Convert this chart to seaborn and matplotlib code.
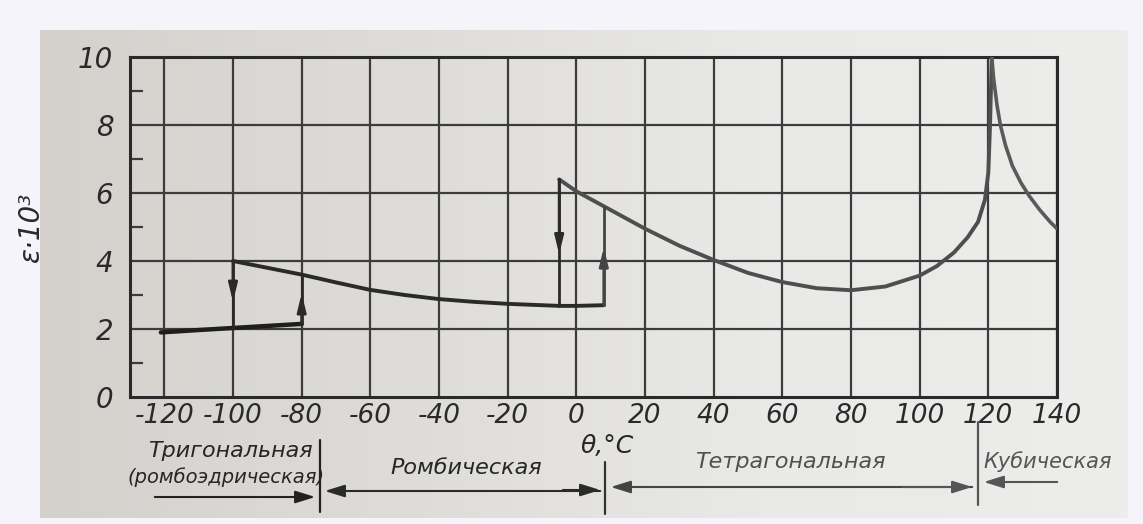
import numpy as np
import pandas as pd
import matplotlib
matplotlib.use("Agg")
import matplotlib.pyplot as plt
import seaborn as sns

# --- data: permittivity of the crystal vs temperature, eps in thousands ---
trig_T = [-121, -110, -100, -90, -80]
trig_eps = [1.9, 1.97, 2.03, 2.09, 2.15]

orth_T = [-100, -90, -80, -70, -60, -50, -40, -30, -20, -10, -5, 0, 8]
orth_eps = [4.0, 3.8, 3.6, 3.37, 3.15, 3.0, 2.88, 2.8, 2.74, 2.7, 2.68, 2.68, 2.7]

tetr_T = [-5, 0, 10, 20, 30, 40, 50, 60, 70, 80, 90, 100, 105, 110, 114, 117, 119, 120, 120.5, 121]
tetr_eps = [6.4, 6.05, 5.5, 4.95, 4.45, 4.03, 3.65, 3.38, 3.2, 3.14, 3.25, 3.57, 3.85, 4.25, 4.7, 5.15, 5.8, 6.6, 8.0, 10.0]

cub_T = [121, 121.5, 122.5, 123.5, 125, 127, 129.5, 132, 135, 138, 140]
cub_eps = [10.0, 9.4, 8.6, 8.0, 7.4, 6.8, 6.3, 5.9, 5.5, 5.15, 4.95]

# transitions: (temperature, eps_from, eps_to, eps at arrowhead)
transitions_T = [-100, -80, -5, 8]
transitions_from = [4.0, 2.15, 6.4, 2.7]
transitions_to = [2.03, 3.6, 2.68, 5.6]
transitions_head = [2.8, 3.05, 4.2, 4.4]

x_ticks = list(range(-120, 141, 20))
y_ticks = [0, 2, 4, 6, 8, 10]
y_minor = [1, 3, 5, 7, 9]

phase_names = ["Тригональная\n(ромбоэдрическая)", "Ромбическая", "Тетрагональная", "Кубическая"]

W, H = 1143, 524
FONT = ["DejaVu Sans"]

sns.set_theme(style="white")
plt.rcParams["font.family"] = FONT
plt.rcParams["font.style"] = "italic"

fig = plt.figure(figsize=(W / 100, H / 100), dpi=100, facecolor="#f4f4fa")

def fx(px):
    return px / W

def fy(py):
    return 1 - py / H

# paper background with a soft left-to-right brightening
bg = fig.add_axes([fx(40), fy(518), fx(1128) - fx(40), fy(30) - fy(518)], zorder=-5)
grad = np.linspace(0, 1, 256)[None, :]
bg.imshow(grad, aspect="auto", cmap=matplotlib.colors.LinearSegmentedColormap.from_list(
    "paper", ["#d4d1cd", "#dedcd9", "#e9e9e7", "#ededeb"]), extent=[0, 1, 0, 1])
bg.set_axis_off()

ax = fig.add_axes([fx(130), fy(397), fx(1057) - fx(130), fy(57) - fy(397)])
ax.set_facecolor("none")

grid_c = "#3c3c3c"

# grid
for t in x_ticks:
    ax.axvline(t, color=grid_c, lw=1.6, zorder=1)
for v in y_ticks[1:]:
    ax.axhline(v, color=grid_c, lw=1.6, zorder=1)

df_trig = pd.DataFrame({"T": trig_T, "eps": trig_eps})
df_orth = pd.DataFrame({"T": orth_T, "eps": orth_eps})
df_tetr = pd.DataFrame({"T": tetr_T, "eps": tetr_eps})
df_cub = pd.DataFrame({"T": cub_T, "eps": cub_eps})

sns.lineplot(data=df_trig, x="T", y="eps", ax=ax, color="#1e1e1e", lw=3.2, sort=False, zorder=3)
sns.lineplot(data=df_orth, x="T", y="eps", ax=ax, color="#2a2a2a", lw=2.8, sort=False, zorder=3)
sns.lineplot(data=df_tetr, x="T", y="eps", ax=ax, color="#4e4e4e", lw=2.8, sort=False, zorder=3)
sns.lineplot(data=df_cub, x="T", y="eps", ax=ax, color="#5a5a5a", lw=2.6, sort=False, zorder=3)

# vertical transition lines with arrowheads mid-way
for t, a, b, h in zip(transitions_T, transitions_from, transitions_to, transitions_head):
    col = "#2a2a2a" if t < 0 else "#444444"
    ax.plot([t, t], [a, b], color=col, lw=2.0, zorder=3)
    ax.annotate("", xy=(t, h), xytext=(t, a), zorder=4,
                arrowprops=dict(arrowstyle="-|>,head_length=0.9,head_width=0.22",
                                color=col, lw=2.0, shrinkA=0, shrinkB=0))

ax.set_xlim(-130, 140)
ax.set_ylim(0, 10)
ax.set_xticks(x_ticks)
ax.set_yticks(y_ticks)
ax.set_yticks(y_minor, minor=True)
ax.set_xticklabels([str(t) for t in x_ticks])
ax.tick_params(axis="x", which="major", length=0, pad=4, labelsize=19, colors="#2a2a2a")
ax.tick_params(axis="y", which="major", length=0, pad=12, labelsize=20, colors="#2a2a2a")
ax.tick_params(axis="y", which="minor", direction="in", length=9, width=1.6, color=grid_c, left=True)
ax.set_xlabel("")
ax.set_ylabel("ε·10³", fontsize=20, labelpad=24, color="#2a2a2a")
for s in ax.spines.values():
    s.set_color("#2a2a2a")
    s.set_linewidth(2.2)
    s.set_visible(True)

# phase labels and boundaries beneath the axis
tcol = "#262626"
fig.text(fx(230), fy(451), phase_names[0].split("\n")[0], ha="center", va="center", fontsize=16, color=tcol)
fig.text(fx(226), fy(477), phase_names[0].split("\n")[1], ha="center", va="center", fontsize=14, color=tcol)
fig.text(fx(466), fy(468), phase_names[1], ha="center", va="center", fontsize=16, color=tcol)
fig.text(fx(607), fy(446), "θ,°C", ha="center", va="center", fontsize=18, color=tcol)
fig.text(fx(790), fy(462), phase_names[2], ha="center", va="center", fontsize=16, color="#505050")
fig.text(fx(1048), fy(462), phase_names[3], ha="center", va="center", fontsize=15, color="#555555")

def vline(px, y0, y1, col):
    fig.add_artist(matplotlib.lines.Line2D([fx(px), fx(px)], [fy(y0), fy(y1)], color=col, lw=1.6))

def harrow(x0, x1, py, col, head_at_end=True):
    fig.add_artist(matplotlib.patches.FancyArrowPatch(
        (fx(x0), fy(py)), (fx(x1), fy(py)), transform=fig.transFigure,
        arrowstyle="-|>,head_length=8,head_width=2.5" if head_at_end else "<|-,head_length=8,head_width=2.5",
        color=col, lw=1.5, mutation_scale=1.5))

vline(320, 440, 512, "#222222")
vline(605, 462, 514, "#333333")
vline(978, 422, 505, "#555555")
harrow(152, 318, 497, "#222222")
harrow(322, 603, 491, "#2a2a2a", head_at_end=False)
harrow(560, 603, 490, "#2a2a2a")
harrow(608, 975, 487, "#444444", head_at_end=False)
harrow(900, 975, 487, "#555555")
harrow(981, 1060, 482, "#555555", head_at_end=False)

fig.savefig("out.png", dpi=100, facecolor=fig.get_facecolor())
